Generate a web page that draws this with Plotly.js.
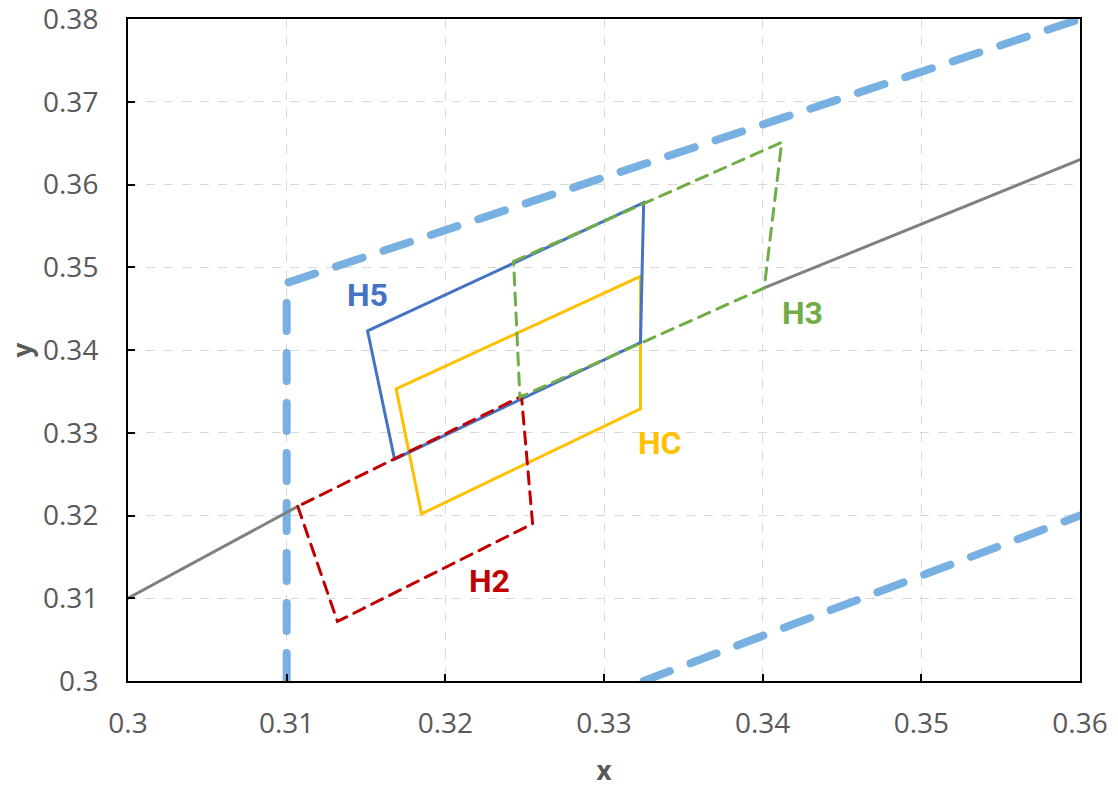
<!DOCTYPE html>
<html>
<head>
<meta charset="utf-8">
<script src="https://cdn.plot.ly/plotly-3.0.1.min.js"></script>
<style>
html,body{margin:0;padding:0;background:#fff;}
#chart{width:1118px;height:789px;}
.trace.scatter .js-line{stroke-linecap:round;}
</style>
</head>
<body>
<div id="chart"></div>
<script>
// Outer boundary (light blue dashed)
const boundX = [0.3100, 0.3100, 0.3600];
const boundY = [0.3000, 0.3481, 0.3800];
const boundLowX = [0.3325, 0.3600];
const boundLowY = [0.3000, 0.3200];
// Locus (gray)
const locusAX = [0.3000, 0.3107];
const locusAY = [0.3100, 0.3211];
const locusBX = [0.3401, 0.3600];
const locusBY = [0.3475, 0.3630];
// Quadrilaterals
const h5X = [0.3151, 0.3325, 0.3323, 0.3168, 0.3151];
const h5Y = [0.3423, 0.3578, 0.3409, 0.3268, 0.3423];
const hcX = [0.3169, 0.3323, 0.3323, 0.3185, 0.3169];
const hcY = [0.3353, 0.3489, 0.3329, 0.3202, 0.3353];
const h2X = [0.3107, 0.3132, 0.3255, 0.3248, 0.3107];
const h2Y = [0.3211, 0.3072, 0.3190, 0.3344, 0.3211];
const h3X = [0.3243, 0.3412, 0.3401, 0.3247, 0.3243];
const h3Y = [0.3507, 0.3651, 0.3475, 0.3343, 0.3507];
// Labels
const labelText = ['H5', 'HC', 'H2', 'H3'];
const labelX = [0.3151, 0.3335, 0.3228, 0.3425];
const labelY = [0.3467, 0.3288, 0.3121, 0.3445];
const labelColor = ['#4472C4', '#FFC000', '#C00000', '#70AD47'];
// Ticks
const xTicks = [0.3, 0.31, 0.32, 0.33, 0.34, 0.35, 0.36];
const xTickText = ['0.3', '0.31', '0.32', '0.33', '0.34', '0.35', '0.36'];
const yTicks = [0.3, 0.31, 0.32, 0.33, 0.34, 0.35, 0.36, 0.37, 0.38];
const yTickText = ['0.3', '0.31', '0.32', '0.33', '0.34', '0.35', '0.36', '0.37', '0.38'];

const traces = [
  {x: boundX, y: boundY, mode: 'lines', line: {color: '#78B0E2', width: 8, dash: '28px,22px'}},
  {x: boundLowX, y: boundLowY, mode: 'lines', line: {color: '#78B0E2', width: 8, dash: '28px,22px'}},
  {x: locusAX, y: locusAY, mode: 'lines', line: {color: '#808080', width: 3}},
  {x: locusBX, y: locusBY, mode: 'lines', line: {color: '#808080', width: 3}},
  {x: hcX, y: hcY, mode: 'lines', line: {color: '#FFC000', width: 3}},
  {x: h5X, y: h5Y, mode: 'lines', line: {color: '#4472C4', width: 3}},
  {x: h2X, y: h2Y, mode: 'lines', line: {color: '#C00000', width: 3, dash: '12px,8px'}},
  {x: h3X, y: h3Y, mode: 'lines', line: {color: '#70AD47', width: 3, dash: '12px,8px'}}
];

const annotations = labelText.map((t, i) => ({
  x: labelX[i], y: labelY[i], xref: 'x', yref: 'y', text: '<b>' + t + '</b>',
  showarrow: false, font: {family: 'Roboto, Arial, sans-serif', size: 32, color: labelColor[i]}
}));

const axisCommon = {
  showline: true, linecolor: '#000', linewidth: 2, mirror: true,
  ticks: 'inside', ticklen: 7, tickcolor: '#000', tickwidth: 2,
  showgrid: true, gridcolor: '#d9d9d9', griddash: 'dash', gridwidth: 1,
  zeroline: false, ticklabeloverflow: 'allow',
  tickfont: {family: 'Open Sans, sans-serif', size: 28, color: '#595959'}
};

const layout = {
  width: 1118, height: 789,
  margin: {l: 128, r: 38, t: 19, b: 108},
  paper_bgcolor: '#fff', plot_bgcolor: '#fff',
  showlegend: false,
  xaxis: Object.assign({}, axisCommon, {
    range: [0.3, 0.36], tickvals: xTicks, ticktext: xTickText,
    ticklabelstandoff: 16,
    title: {text: '<b>x</b>', font: {family: 'Open Sans, sans-serif', size: 26, color: '#595959'}, standoff: 22}
  }),
  yaxis: Object.assign({}, axisCommon, {
    range: [0.3, 0.38], tickvals: yTicks, ticktext: yTickText,
    ticklabelstandoff: 22,
    title: {text: '<b>y</b>', font: {family: 'Open Sans, sans-serif', size: 26, color: '#595959'}, standoff: 3}
  }),
  annotations: annotations
};

Plotly.newPlot('chart', traces, layout, {displayModeBar: false, staticPlot: true});
</script>
</body>
</html>
